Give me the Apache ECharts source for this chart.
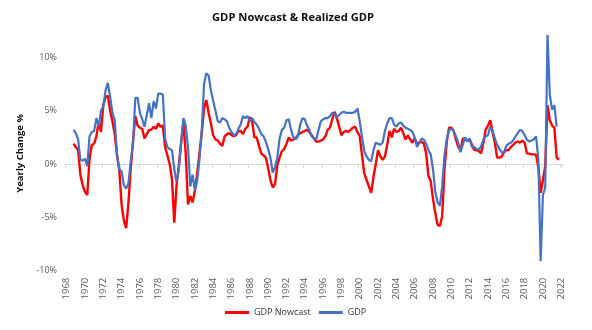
<!DOCTYPE html>
<html>
<head>
<meta charset="utf-8">
<script src="https://cdn.jsdelivr.net/npm/echarts@6/dist/echarts.min.js"></script>
<style>
  html, body { margin: 0; padding: 0; background: #fff; }
  #chart { width: 592px; height: 330px; }
</style>
</head>
<body>
<div id="chart"></div>
<script>
// Quarterly category axis: 1968 Q3 through 2022 Q3
const firstYear = 1968;
const firstQuarter = 3;
const quarterCount = 217;
const quarters = [];
for (let i = 0; i < quarterCount; i++) {
  const q = firstQuarter - 1 + i;
  quarters.push((firstYear + Math.floor(q / 4)) + ' Q' + (q % 4 + 1));
}

// Both series begin at 1969 Q2 (fourth category)
const seriesStartIndex = 3;

// Nowcast of year-over-year real GDP growth, %, 1969 Q2 .. 2022 Q2
const nowcast = [
  1.9, 1.6, 1.3,
  -1.0, -2.0, -2.6, -2.9,
  0.5, 1.8, 1.9, 2.6,
  4.0, 3.0, 5.5, 6.3,
  6.4, 5.0, 4.0, 2.8,
  0.8, -0.6, -3.8, -5.3,
  -6.0, -3.6, -0.4, 2.2,
  4.5, 3.6, 3.4, 3.3,
  2.4, 2.8, 3.2, 3.2,
  3.5, 3.3, 3.8, 3.5,
  3.6, 1.6, 0.8, 0.0,
  -1.4, -5.5, -2.0, -0.1,
  2.0, 3.9, 1.0, -3.8,
  -3.0, -3.6, -2.5, -0.9,
  1.0, 2.9, 5.2, 6.0,
  4.8, 3.8, 2.7, 2.3,
  2.2, 1.9, 1.7, 2.6,
  2.8, 2.9, 2.7, 2.6,
  2.7, 3.1, 3.1, 2.8,
  3.3, 3.5, 4.4, 4.0,
  2.5, 2.5, 1.7, 1.0,
  0.8, 0.6, -0.4, -1.5,
  -2.2, -1.9, -0.1, 0.6,
  1.2, 1.4, 1.9, 2.5,
  2.2, 2.3, 2.4, 2.7,
  2.9, 3.0, 3.1, 3.2,
  3.0, 2.7, 2.4, 2.1,
  2.1, 2.2, 2.3, 2.6,
  3.2, 3.4, 4.2, 4.9,
  4.3, 3.5, 2.7, 3.0,
  3.1, 3.0, 3.2, 3.4,
  3.5, 3.0, 2.6, 0.8,
  -0.9, -1.5, -2.1, -2.7,
  -1.2, 0.0, 1.3, 0.7,
  0.4, 0.7, 1.8, 3.1,
  2.5, 3.3, 3.0, 3.1,
  3.4, 2.9, 2.3, 2.7,
  2.3, 2.0, 2.4, 1.9,
  2.0, 2.1, 1.9, 1.0,
  -1.1, -1.6, -3.3, -4.6,
  -5.7, -5.8, -4.9, -0.5,
  2.1, 3.4, 3.4, 3.1,
  2.3, 1.6, 1.3, 2.4,
  2.3, 2.2, 2.3, 1.8,
  1.3, 1.3, 1.2, 1.0,
  2.0, 3.2, 3.6, 4.1,
  3.0, 2.0, 0.6, 0.6,
  0.7, 1.1, 1.3, 1.3,
  1.6, 1.8, 2.0, 2.1,
  2.0, 2.2, 2.0, 1.0,
  0.97, 0.9, 0.9, 0.85,
  -0.3, -2.7, -1.5, -0.2,
  5.5, 4.1, 3.6, 3.4,
  0.6, 0.4
];

// Realized year-over-year real GDP growth, %, 1969 Q2 .. 2022 Q1
const gdp = [
  3.2, 2.9, 2.3,
  0.4, 0.3, 0.5, -0.2,
  2.6, 3.0, 3.1, 4.3,
  3.5, 5.0, 5.4, 6.9,
  7.6, 6.3, 4.8, 4.1,
  0.9, -0.5, -0.7, -2.0,
  -2.3, -1.8, 0.3, 2.0,
  6.2, 6.2, 4.8, 4.2,
  3.5, 4.6, 5.7, 4.3,
  5.9, 5.2, 6.6, 6.6,
  6.5, 2.4, 1.6, 1.4,
  1.3, -0.5, -1.7, -0.5,
  2.0, 4.3, 3.6, 1.6,
  -2.1, -1.0, -2.5, -1.6,
  0.4, 3.1, 7.5, 8.5,
  8.3, 6.9, 5.9, 5.0,
  4.0, 3.9, 4.3, 4.2,
  4.0, 3.4, 3.0, 2.7,
  2.8, 3.3, 3.7, 4.5,
  4.3, 4.5, 4.0, 4.3,
  3.9, 3.7, 3.3, 2.8,
  2.6, 2.1, 1.4, 0.6,
  -0.8, -0.3, 0.6, 2.4,
  3.2, 3.4, 4.1, 4.2,
  3.2, 2.5, 2.3, 2.6,
  3.7, 4.3, 4.2, 3.6,
  3.2, 2.6, 2.4, 2.3,
  3.2, 4.0, 4.2, 4.3,
  4.3, 4.5, 4.8, 4.7,
  4.4, 4.6, 4.8, 4.9,
  4.8, 4.8, 4.8, 4.8,
  4.9, 5.2, 4.0, 2.5,
  1.2, 0.7, 0.4, 0.25,
  1.3, 2.0, 1.9, 1.8,
  2.0, 3.1, 3.8, 4.3,
  4.3, 3.7, 3.5, 3.8,
  3.9, 3.6, 3.4, 3.3,
  3.2, 3.0, 2.5, 1.6,
  2.0, 2.4, 2.3, 1.9,
  1.3, 0.9, -0.5, -2.6,
  -3.6, -3.9, -2.1, 0.8,
  2.3, 3.2, 3.3, 3.1,
  2.6, 2.0, 1.1, 1.8,
  2.5, 2.1, 2.4, 1.6,
  1.6, 1.4, 1.35, 1.65,
  2.3, 2.6, 2.7, 3.5,
  3.1, 2.4, 1.8, 1.4,
  1.1, 1.1, 1.7, 1.9,
  2.0, 2.2, 2.6, 2.9,
  3.2, 3.1, 2.7, 2.3,
  2.1, 2.2, 2.3, 2.6,
  0.4, -9.1, -2.9, -2.2,
  12.2, 6.5, 5.1, 5.5,
  3.5
];

// Value axis range and labelled ticks, %
const yMin = -10;
const yMax = 12;
const yStep = 5;

const seriesNames = ['GDP Nowcast', 'GDP'];
const seriesColors = ['#ff0000', '#4472c4'];

const leadingGap = n => new Array(n).fill(null);
const font = 'Open Sans';

const chart = echarts.init(document.getElementById('chart'), null, { renderer: 'canvas' });

chart.setOption({
  animation: false,
  backgroundColor: '#ffffff',
  title: {
    text: 'GDP Nowcast & Realized GDP',
    left: 207,
    top: 7,
    textStyle: { fontFamily: font, fontWeight: 'bold', fontSize: 11.2, color: '#111' }
  },
  legend: {
    data: seriesNames,
    top: 303,
    left: 220,
    icon: 'rect',
    itemWidth: 24,
    itemHeight: 3,
    itemGap: 8,
    textStyle: { fontFamily: font, fontSize: 9, color: '#333' }
  },
  grid: { left: 65.5, right: 29.6, top: 36, bottom: 59.3 },
  xAxis: [
    {
      // year labels along the bottom edge
      type: 'category',
      data: quarters,
      boundaryGap: true,
      position: 'bottom',
      axisLine: { show: false, onZero: false },
      axisTick: { show: false },
      splitLine: { show: false },
      axisLabel: {
        interval: 7,
        rotate: 90,
        margin: 7,
        fontFamily: font,
        fontSize: 9.5,
        color: '#595959',
        formatter: v => v.slice(0, 4)
      }
    },
    {
      // baseline at zero with two-year tick marks
      type: 'category',
      data: quarters,
      boundaryGap: true,
      position: 'bottom',
      axisLine: { show: true, onZero: true, lineStyle: { color: '#d9d9d9', width: 1 } },
      axisTick: { show: true, interval: 7, length: 4, lineStyle: { color: '#d9d9d9', width: 1 } },
      axisLabel: { show: false },
      splitLine: { show: false }
    }
  ],
  yAxis: {
    type: 'value',
    min: yMin,
    max: yMax,
    interval: yStep,
    name: 'Yearly Change %',
    nameLocation: 'middle',
    nameRotate: 90,
    nameGap: 28,
    nameTextStyle: { fontFamily: font, fontWeight: 'bold', fontSize: 9.5, color: '#111' },
    axisLine: { show: false },
    axisTick: { show: false },
    splitLine: { show: false },
    axisLabel: {
      margin: 8.5,
      fontFamily: font,
      fontSize: 9,
      color: '#595959',
      formatter: v => (v % yStep === 0 ? v + '%' : '')
    }
  },
  series: [
    {
      name: seriesNames[0],
      type: 'line',
      xAxisIndex: 0,
      data: leadingGap(seriesStartIndex).concat(nowcast),
      showSymbol: false,
      symbol: 'none',
      color: seriesColors[0],
      lineStyle: { width: 2.4, color: seriesColors[0] },
      clip: true
    },
    {
      name: seriesNames[1],
      type: 'line',
      xAxisIndex: 0,
      data: leadingGap(seriesStartIndex).concat(gdp),
      showSymbol: false,
      symbol: 'none',
      color: seriesColors[1],
      lineStyle: { width: 2.2, color: seriesColors[1] },
      clip: true
    }
  ]
});
</script>
</body>
</html>
